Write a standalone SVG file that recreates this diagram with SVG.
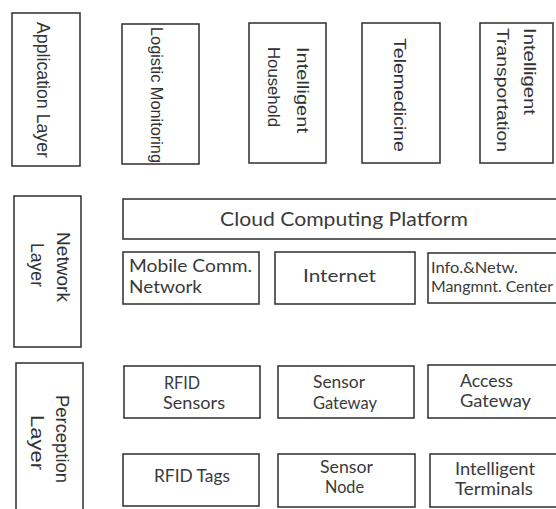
<svg xmlns="http://www.w3.org/2000/svg" width="556" height="509" viewBox="0 0 556 509">
<style>
rect{fill:#fff;stroke:#3a3a3a;stroke-width:1.6}
.v{font-family:"Liberation Sans",Arial,sans-serif;fill:#333;}
.h{font-family:Lato,"Open Sans",sans-serif;fill:#3a3a3a;}
</style>
<rect x="0" y="0" width="556" height="509" style="fill:#fff;stroke:none"/>
<g id="connectors"/>
<g id="application-layer">
<rect x="12" y="13" width="68" height="153"/>
<text class="v" font-size="17.5" transform="rotate(90 37 22)" x="37" y="22" textLength="136" lengthAdjust="spacingAndGlyphs">Application Layer</text>
</g>
<g id="logistic-monitoring">
<rect x="122" y="24" width="77" height="140"/>
<text class="v" font-size="16.3" transform="rotate(90 151 27)" x="151" y="27" textLength="136" lengthAdjust="spacingAndGlyphs">Logistic Monitoring</text>
</g>
<g id="intelligent-household">
<rect x="249" y="23" width="77" height="140"/>
<text class="v" font-size="17" transform="rotate(90 297 47)" x="297" y="47" textLength="86" lengthAdjust="spacingAndGlyphs">Intelligent</text>
<text class="v" font-size="17" transform="rotate(90 268 47)" x="268" y="47" textLength="80" lengthAdjust="spacingAndGlyphs">Household</text>
</g>
<g id="telemedicine">
<rect x="362" y="23" width="78" height="140"/>
<text class="v" font-size="17" transform="rotate(90 394 38)" x="394" y="38" textLength="114" lengthAdjust="spacingAndGlyphs">Telemedicine</text>
</g>
<g id="intelligent-transportation">
<rect x="480" y="23" width="73" height="140"/>
<text class="v" font-size="17" transform="rotate(90 524 28)" x="524" y="28" textLength="87" lengthAdjust="spacingAndGlyphs">Intelligent</text>
<text class="v" font-size="17" transform="rotate(90 497 28)" x="497" y="28" textLength="124" lengthAdjust="spacingAndGlyphs">Transportation</text>
</g>
<g id="network-layer">
<rect x="14" y="196" width="67" height="151"/>
<text class="v" font-size="18.5" transform="rotate(90 57 232)" x="57" y="232" textLength="70" lengthAdjust="spacingAndGlyphs">Network</text>
<text class="v" font-size="18" transform="rotate(90 31 243)" x="31" y="243" textLength="44" lengthAdjust="spacingAndGlyphs">Layer</text>
</g>
<g id="cloud-computing-platform">
<rect x="123" y="199" width="440" height="40"/>
<text class="h" font-size="19" x="220" y="226" textLength="248" lengthAdjust="spacingAndGlyphs">Cloud Computing Platform</text>
</g>
<g id="mobile-comm-network">
<rect x="123" y="252" width="136" height="52"/>
<text class="h" font-size="17" x="129" y="272" textLength="123" lengthAdjust="spacingAndGlyphs">Mobile Comm.</text>
<text class="h" font-size="17" x="129" y="293" textLength="73" lengthAdjust="spacingAndGlyphs">Network</text>
</g>
<g id="internet">
<rect x="275" y="252" width="140" height="52"/>
<text class="h" font-size="18" x="303" y="282" textLength="73" lengthAdjust="spacingAndGlyphs">Internet</text>
</g>
<g id="info-netw-center">
<rect x="428" y="253" width="135" height="50"/>
<text class="h" font-size="15.5" x="431" y="273" textLength="87" lengthAdjust="spacingAndGlyphs">Info.&amp;Netw.</text>
<text class="h" font-size="15.5" x="431" y="292" textLength="122" lengthAdjust="spacingAndGlyphs">Mangmnt. Center</text>
</g>
<g id="perception-layer">
<rect x="16" y="363" width="67" height="152"/>
<text class="v" font-size="19" transform="rotate(90 56 395)" x="56" y="395" textLength="88" lengthAdjust="spacingAndGlyphs">Perception</text>
<text class="v" font-size="19" transform="rotate(90 31 415)" x="31" y="415" textLength="55" lengthAdjust="spacingAndGlyphs">Layer</text>
</g>
<g id="rfid-sensors">
<rect x="124" y="366" width="136" height="52"/>
<text class="h" font-size="16.5" x="164" y="389" textLength="36" lengthAdjust="spacingAndGlyphs">RFID</text>
<text class="h" font-size="16.5" x="163" y="409" textLength="62" lengthAdjust="spacingAndGlyphs">Sensors</text>
</g>
<g id="sensor-gateway">
<rect x="278" y="366" width="136" height="52"/>
<text class="h" font-size="16.5" x="313" y="388" textLength="52" lengthAdjust="spacingAndGlyphs">Sensor</text>
<text class="h" font-size="16.5" x="313" y="409" textLength="64" lengthAdjust="spacingAndGlyphs">Gateway</text>
</g>
<g id="access-gateway">
<rect x="428" y="365" width="135" height="53"/>
<text class="h" font-size="16.5" x="460" y="387" textLength="53" lengthAdjust="spacingAndGlyphs">Access</text>
<text class="h" font-size="16.5" x="460" y="407" textLength="71" lengthAdjust="spacingAndGlyphs">Gateway</text>
</g>
<g id="rfid-tags">
<rect x="123" y="454" width="136" height="52"/>
<text class="h" font-size="16.5" x="154" y="482" textLength="76" lengthAdjust="spacingAndGlyphs">RFID Tags</text>
</g>
<g id="sensor-node">
<rect x="278" y="454" width="137" height="53"/>
<text class="h" font-size="16.5" x="320" y="473" textLength="53" lengthAdjust="spacingAndGlyphs">Sensor</text>
<text class="h" font-size="16.5" x="325" y="493" textLength="39" lengthAdjust="spacingAndGlyphs">Node</text>
</g>
<g id="intelligent-terminals">
<rect x="430" y="454" width="133" height="53"/>
<text class="h" font-size="16.5" x="455" y="475" textLength="80" lengthAdjust="spacingAndGlyphs">Intelligent</text>
<text class="h" font-size="16.5" x="455" y="495" textLength="78" lengthAdjust="spacingAndGlyphs">Terminals</text>
</g>
</svg>
